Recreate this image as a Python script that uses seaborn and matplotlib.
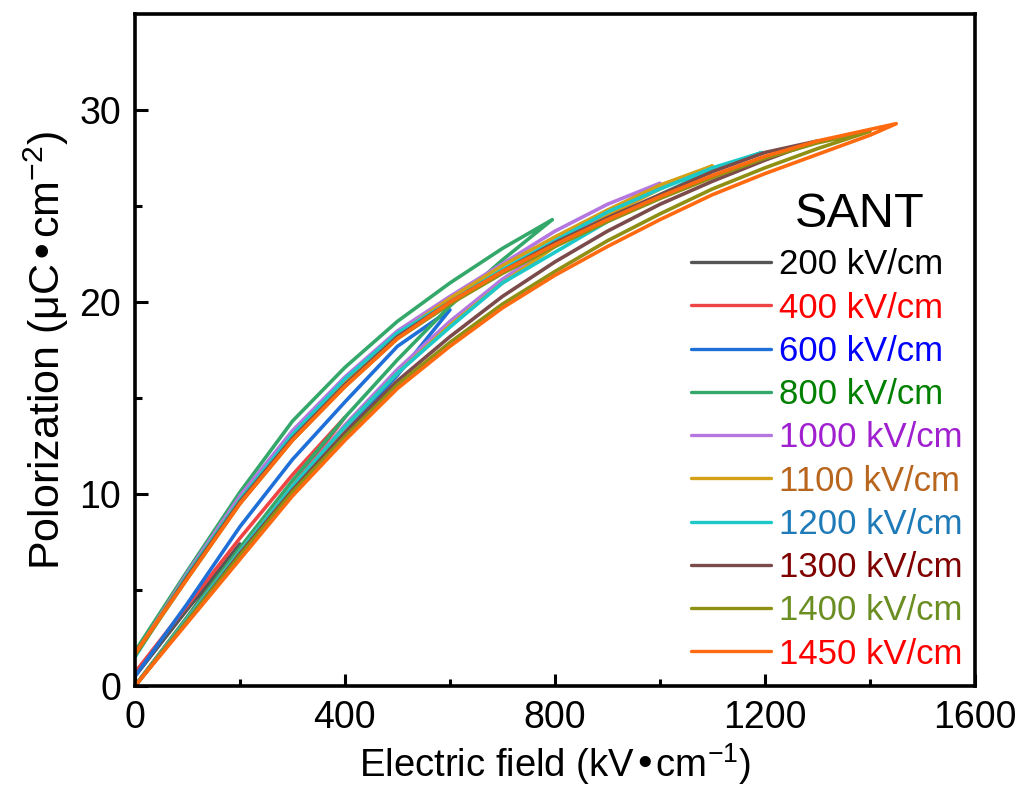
import numpy as np
import pandas as pd
import matplotlib
matplotlib.use('Agg')
import matplotlib.pyplot as plt
import seaborn as sns

# maximum field of each unipolar loop (kV/cm)
fields = [200, 400, 600, 800, 1000, 1100, 1200, 1300, 1400, 1450]
labels = [f'{f} kV/cm' for f in fields]

line_colors = ['#555555', '#ef4444', '#1f6fd8', '#34a86a', '#b477e0',
               '#d4a017', '#1cc8c8', '#7b4a4a', '#8f8f14', '#ff6a10']
text_colors = ['#000000', '#ff0000', '#0000ff', '#008000', '#a020d0',
               '#b8651e', '#1f7ab8', '#800000', '#6b8e23', '#ff0000']

# rising branch (E up) and falling branch (E down) of each loop
E_up_200 = [0, 100, 200]
P_up_200 = [0, 3.6, 7.4]
E_dn_200 = [200, 100, 0]
P_dn_200 = [7.4, 4.0, 0.5]

E_up_400 = [0, 100, 200, 300, 400]
P_up_400 = [0, 3.4, 6.9, 10.4, 14.0]
E_dn_400 = [400, 300, 200, 100, 0]
P_dn_400 = [14.0, 11.0, 7.7, 4.2, 0.7]

E_up_600 = [0, 100, 200, 300, 400, 500, 600]
P_up_600 = [0, 3.4, 6.8, 10.1, 13.2, 16.2, 19.6]
E_dn_600 = [600, 500, 400, 300, 200, 100, 0]
P_dn_600 = [19.6, 17.7, 14.8, 11.8, 8.3, 4.3, 0.5]

E_up_800 = [0, 100, 200, 300, 400, 500, 600, 700, 795]
P_up_800 = [0, 3.6, 7.2, 10.7, 14.0, 17.0, 19.8, 22.2, 24.3]
E_dn_800 = [795, 700, 600, 500, 400, 300, 200, 100, 0]
P_dn_800 = [24.3, 22.8, 21.0, 19.0, 16.6, 13.8, 10.1, 6.0, 1.8]

E_up_1000 = [0, 100, 200, 300, 400, 500, 600, 700, 800, 900, 1000]
P_up_1000 = [0, 3.5, 7.0, 10.4, 13.6, 16.5, 19.0, 21.2, 23.0, 24.7, 26.2]
E_dn_1000 = [1000, 900, 800, 700, 600, 500, 400, 300, 200, 100, 0]
P_dn_1000 = [26.2, 25.1, 23.7, 22.0, 20.3, 18.5, 16.1, 13.3, 9.9, 5.9, 1.6]

E_up_1100 = [0, 100, 200, 300, 400, 500, 600, 700, 800, 900, 1000, 1100]
P_up_1100 = [0, 3.5, 7.0, 10.4, 13.5, 16.3, 18.8, 21.0, 22.9, 24.5, 25.9, 27.1]
E_dn_1100 = [1100, 1000, 900, 800, 700, 600, 500, 400, 300, 200, 100, 0]
P_dn_1100 = [27.1, 26.1, 24.8, 23.4, 21.9, 20.2, 18.3, 15.9, 13.0, 9.7, 5.8, 1.6]

E_up_1200 = [0, 100, 200, 300, 400, 500, 600, 700, 800, 900, 1000, 1100, 1195]
P_up_1200 = [0, 3.5, 7.0, 10.4, 13.5, 16.3, 18.7, 21.0, 22.6, 24.2, 25.6, 26.9, 27.8]
E_dn_1200 = [1195, 1100, 1000, 900, 800, 700, 600, 500, 400, 300, 200, 100, 0]
P_dn_1200 = [27.8, 27.0, 25.9, 24.7, 23.2, 21.7, 20.0, 18.4, 16.0, 13.1, 9.7, 5.8, 1.5]

E_up_1300 = [0, 100, 200, 300, 400, 500, 600, 700, 800, 900, 1000, 1100, 1200, 1300]
P_up_1300 = [0, 3.4, 6.9, 10.2, 13.2, 15.9, 18.2, 20.3, 22.1, 23.7, 25.1, 26.3, 27.4, 28.4]
E_dn_1300 = [1300, 1200, 1100, 1000, 900, 800, 700, 600, 500, 400, 300, 200, 100, 0]
P_dn_1300 = [28.4, 27.8, 26.8, 25.6, 24.4, 23.1, 21.6, 20.0, 18.2, 15.7, 12.9, 9.6, 5.7, 1.6]

E_up_1400 = [0, 100, 200, 300, 400, 500, 600, 700, 800, 900, 1000, 1100, 1200, 1300, 1400]
P_up_1400 = [0, 3.4, 6.8, 10.1, 13.0, 15.7, 17.9, 19.9, 21.6, 23.2, 24.6, 25.9, 27.0, 28.0, 28.9]
E_dn_1400 = [1400, 1300, 1200, 1100, 1000, 900, 800, 700, 600, 500, 400, 300, 200, 100, 0]
P_dn_1400 = [28.9, 28.3, 27.5, 26.5, 25.4, 24.2, 22.9, 21.5, 19.9, 18.1, 15.6, 12.8, 9.5, 5.6, 1.6]

E_up_1450 = [0, 100, 200, 300, 400, 500, 600, 700, 800, 900, 1000, 1100, 1200, 1300, 1400, 1450]
P_up_1450 = [0, 3.3, 6.6, 9.9, 12.8, 15.5, 17.7, 19.7, 21.4, 22.9, 24.3, 25.6, 26.7, 27.7, 28.7, 29.3]
E_dn_1450 = [1450, 1400, 1300, 1200, 1100, 1000, 900, 800, 700, 600, 500, 400, 300, 200, 100, 0]
P_dn_1450 = [29.3, 29.0, 28.4, 27.6, 26.6, 25.5, 24.3, 23.0, 21.6, 20.0, 18.1, 15.6, 12.8, 9.5, 5.6, 1.7]

loops = {
    200: (E_up_200, P_up_200, E_dn_200, P_dn_200),
    400: (E_up_400, P_up_400, E_dn_400, P_dn_400),
    600: (E_up_600, P_up_600, E_dn_600, P_dn_600),
    800: (E_up_800, P_up_800, E_dn_800, P_dn_800),
    1000: (E_up_1000, P_up_1000, E_dn_1000, P_dn_1000),
    1100: (E_up_1100, P_up_1100, E_dn_1100, P_dn_1100),
    1200: (E_up_1200, P_up_1200, E_dn_1200, P_dn_1200),
    1300: (E_up_1300, P_up_1300, E_dn_1300, P_dn_1300),
    1400: (E_up_1400, P_up_1400, E_dn_1400, P_dn_1400),
    1450: (E_up_1450, P_up_1450, E_dn_1450, P_dn_1450),
}

frames = []
for f, lab in zip(fields, labels):
    eu, pu, ed, pd_ = loops[f]
    frames.append(pd.DataFrame({'E': eu + ed, 'P': pu + pd_, 'field': lab}))
df = pd.concat(frames, ignore_index=True)

sns.set_style('ticks')
plt.rcParams['font.family'] = ['Liberation Sans', 'DejaVu Sans']
plt.rcParams['mathtext.default'] = 'regular'
for key in ['text.color', 'axes.labelcolor', 'xtick.color', 'ytick.color']:
    plt.rcParams[key] = 'black'

fig = plt.figure(figsize=(10.22, 7.94), dpi=100)
ax = fig.add_axes([0.132, 0.136, 0.822, 0.846])

sns.lineplot(data=df, x='E', y='P', hue='field', hue_order=labels,
             palette=line_colors, sort=False, estimator=None,
             linewidth=2.6, ax=ax)

ax.set_xlim(0, 1600)
ax.set_ylim(0, 35)
ax.set_xticks([0, 400, 800, 1200, 1600])
ax.set_xticks([200, 600, 1000, 1400], minor=True)
ax.set_yticks([0, 10, 20, 30])
ax.set_yticks([5, 15, 25], minor=True)
ax.tick_params(which='both', direction='in', width=2.2, top=False, right=False)
ax.tick_params(which='major', length=9, labelsize=27, pad=10)
ax.tick_params(which='minor', length=5)
for sp in ax.spines.values():
    sp.set_linewidth(2.6)
    sp.set_color('black')

ax.set_xlabel('Electric field (kV•cm$^{-1}$)', fontsize=27.5, labelpad=4)
ax.set_ylabel('Polorization (μC•cm$^{-2}$)', fontsize=31, labelpad=6)

handles, _ = ax.get_legend_handles_labels()
leg = ax.legend(handles, labels, loc='lower right', bbox_to_anchor=(1.0, 0.005),
                frameon=False, fontsize=25, handlelength=2.3,
                handletextpad=0.23, labelspacing=0.295, borderaxespad=0.0,
                borderpad=0.35)
for txt, c in zip(leg.get_texts(), text_colors):
    txt.set_color(c)
for h in leg.get_lines():
    h.set_linewidth(2.4)

ax.text(0.863, 0.684, 'SANT', transform=ax.transAxes, fontsize=35,
        ha='center', va='baseline')

fig.savefig('out.png', dpi=100)
